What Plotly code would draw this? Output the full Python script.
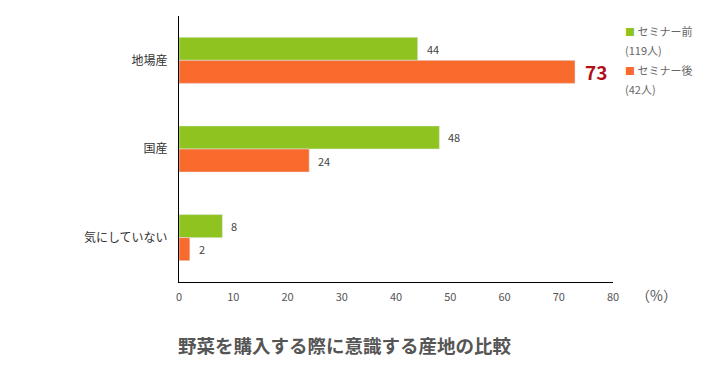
import plotly.graph_objects as go

categories = ["地場産", "国産", "気にしていない"]
before_vals = [44, 48, 8]
after_vals = [73, 24, 2]
series_names = ["セミナー前", "セミナー後"]
series_counts = ["(119人)", "(42人)"]
x_ticks = [0, 10, 20, 30, 40, 50, 60, 70, 80]
title_text = "野菜を購入する際に意識する産地の比較"
unit_text = "（%）"

GREEN = "#8FC31F"
ORANGE = "#F96A2D"
FONT = "Noto Sans CJK JP"
BAR_W = 0.26

# the page body has an 8px default margin; the figure is sized to fit inside it
PAGE_PAD = 8

fig = go.Figure()
fig.add_trace(go.Bar(y=categories, x=before_vals, orientation="h", marker_color=GREEN,
                     width=BAR_W, offset=-BAR_W, name=series_names[0], showlegend=False,
                     hoverinfo="x+y"))
fig.add_trace(go.Bar(y=categories, x=after_vals, orientation="h", marker_color=ORANGE,
                     width=BAR_W, offset=0, name=series_names[1], showlegend=False,
                     hoverinfo="x+y"))

# legend (drawn as text entries to match the reference spacing)
LEG_X = 1.0 + (623 - 613) / 434
for k, (name, cnt, col) in enumerate(zip(series_names, series_counts, [GREEN, ORANGE])):
    y_top = 1.0 - (31 - 16 + 39 * k) / 266
    y_bot = 1.0 - (50 - 16 + 39 * k) / 266
    fig.add_annotation(x=LEG_X, y=y_top, xref="paper", yref="paper", showarrow=False,
                       xanchor="left", yanchor="middle",
                       text=f"<span style='color:{col};font-size:10px'>■</span> {name}",
                       font=dict(size=11, color="#666", family=FONT))
    fig.add_annotation(x=LEG_X, y=y_bot, xref="paper", yref="paper", showarrow=False,
                       xanchor="left", yanchor="middle", text=cnt,
                       font=dict(size=11, color="#666", family=FONT))

# value labels
max_after = max(after_vals)
for i, cat in enumerate(categories):
    fig.add_annotation(x=before_vals[i], y=i - BAR_W / 2, xref="x", yref="y",
                       text=str(before_vals[i]), showarrow=False, xanchor="left", xshift=7,
                       font=dict(size=11, color="#444", family=FONT))
    big = after_vals[i] == max_after
    fig.add_annotation(x=after_vals[i], y=i + BAR_W / 2, xref="x", yref="y",
                       text=f"<b>{after_vals[i]}</b>" if big else str(after_vals[i]),
                       showarrow=False, xanchor="left", xshift=8 if big else 7,
                       font=dict(size=19 if big else 11, color="#B0101A" if big else "#444", family=FONT))

fig.add_annotation(x=1.101, y=-0.05, xref="paper", yref="paper", text=unit_text, showarrow=False,
                   font=dict(size=14, color="#555", family=FONT), xanchor="center", yanchor="middle")
fig.add_annotation(x=(345 - 179) / 434, y=-(345 - 282) / 266, xref="paper", yref="paper",
                   text=f"<b>{title_text}</b>",
                   showarrow=False, font=dict(size=18.5, color="#555", family=FONT),
                   xanchor="center", yanchor="middle")

fig.update_layout(
    width=712 - 2 * PAGE_PAD, height=380 - 2 * PAGE_PAD,
    margin=dict(l=179 - PAGE_PAD, r=99 - PAGE_PAD, t=16 - PAGE_PAD, b=98 - PAGE_PAD,
                autoexpand=False),
    paper_bgcolor="white", plot_bgcolor="white",
    barmode="overlay",
    font=dict(family=FONT, color="#444"),
    showlegend=False,
    xaxis=dict(range=[0, 80], tickvals=x_ticks, showgrid=False, zeroline=False,
               showline=True, linecolor="#000", linewidth=1, ticks="", ticklabelstandoff=5,
               tickfont=dict(size=11, color="#555", family=FONT), fixedrange=True,
               automargin=False),
    yaxis=dict(categoryorder="array", categoryarray=categories, range=[2.5, -0.5],
               showgrid=False, zeroline=False, showline=True, linecolor="#000", linewidth=1,
               ticks="", ticklabelstandoff=8, automargin=False,
               tickfont=dict(size=12, color="#333", family=FONT), fixedrange=True),
)

fig.write_html("out.html")
